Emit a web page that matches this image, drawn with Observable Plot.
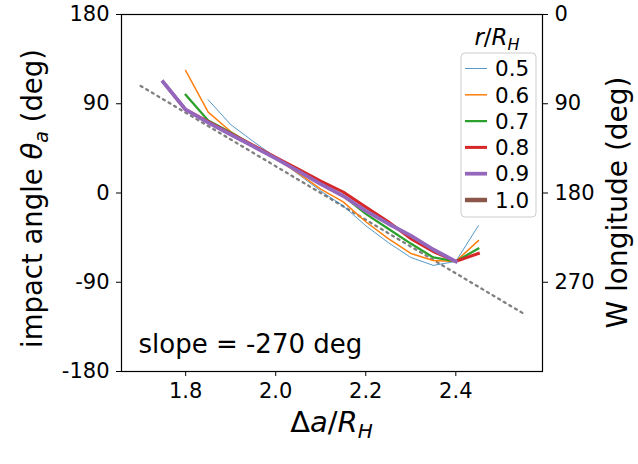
<!DOCTYPE html>
<html><head><meta charset="utf-8">
<script src="https://cdn.jsdelivr.net/npm/d3@7"></script>
<script src="https://cdn.jsdelivr.net/npm/@observablehq/plot@0.6"></script>
<style>
body{margin:0;background:#fff}
svg{font-family:"DejaVu Sans";}
</style>
</head><body><div id="chart"></div>
<script>
// Δa/R_H sample positions
const deltaA = [1.75,1.8,1.85,1.9,1.95,2.0,2.05,2.1,2.15,2.2,2.25,2.3,2.35,2.4,2.45];
// impact angle θ_a (deg) for each r/R_H
const r05 = [null,null,94,69,52,36,19,2,-13,-33,-50,-65,-73,-69,-33];
const r06 = [null,123.5,81.5,62,48,35,20,4,-9,-29,-46,-61,-68,-69,-48];
const r07 = [null,99,73,61,48,35,22,9,-3,-21,-36,-51,-65,-69,-56];
const r08 = [112,84,72,60,48,36,24,12,1,-14,-29,-46,-59,-69,-61];
const r09 = [112,84,71,59,47,35,22,9,-3,-18,-31,-43,-57,-69,null];
const r10 = [null,null,null,null,null,null,null,null,null,null,null,null,null,null,null];
const seriesNames = ["0.5","0.6","0.7","0.8","0.9","1.0"];
const seriesValues = [r05,r06,r07,r08,r09,r10];
const seriesColors = ["#1f77b4","#ff7f0e","#2ca02c","#d62728","#9467bd","#8c564b"];
const seriesWidths = [0.75,1.5,2.25,3,3.75,4.5];
// reference slope line
const fitX = [1.7,2.55];
const fitSlope = -270, fitCenter = 2.1;
const xTicks = [1.8,2.0,2.2,2.4];
const yTicks = [-180,-90,0,90,180];
const wLonTicks = [0,90,180,270]; // W longitude = 180 - θ
const slopeLabel = "slope = -270 deg";

const fitData = fitX.map(x => ({x, y: fitSlope*(x - fitCenter)}));
const lines = seriesValues.map((vals,i) => Plot.line(
  deltaA.map((x,j) => ({x, y: vals[j]})),
  {x:"x", y:"y", stroke: seriesColors[i], strokeWidth: seriesWidths[i],
   strokeLinejoin:"round", strokeLinecap:"square"}));

const plot = Plot.plot({
  width:638, height:464,
  marginLeft:121, marginRight:96, marginTop:14, marginBottom:93,
  style:{fontFamily:"DejaVu Sans", fontSize:"21px", background:"white", color:"black", overflow:"visible"},
  x:{domain:[1.6575,2.5925]},
  y:{domain:[-180,180]},
  marks:[
    Plot.line(fitData,{x:"x",y:"y",stroke:"#808080",strokeWidth:2.3,strokeDasharray:"2.1,4.4"}),
    ...lines,
    Plot.frame({stroke:"black", strokeWidth:1.2}),
    Plot.axisX({ticks:xTicks, tickFormat:d3.format(".1f"), tickSize:5, tickPadding:7, label:null, fontSize:21}),
    Plot.axisY({ticks:yTicks, tickFormat:d=>String(d).replace("\u2212","-"), tickSize:5, tickPadding:7, label:null, fontSize:21}),
    Plot.axisY({anchor:"right", ticks:wLonTicks.map(w=>180-w), tickFormat:d=>String(180-d), tickSize:5, tickPadding:7, label:null, fontSize:21}),
    Plot.text([slopeLabel],{frameAnchor:"bottom-left", textAnchor:"start", lineAnchor:"bottom", dx:17, dy:-19, fontSize:26})
  ]
});
document.getElementById("chart").appendChild(plot);

const svg = d3.select(plot);
// axis labels
const yl = svg.append("text").attr("transform","translate(42,198.5) rotate(-90)")
  .attr("text-anchor","middle").attr("font-size",27.5).attr("fill","black");
yl.append("tspan").text("impact angle ");
yl.append("tspan").attr("font-style","italic").text("θ");
yl.append("tspan").attr("font-style","italic").attr("font-size",19).attr("dy",6).text("a");
yl.append("tspan").attr("dy",-6).text(" (deg)");

svg.append("text").attr("transform","translate(627,202.5) rotate(-90)")
  .attr("text-anchor","middle").attr("font-size",28).attr("fill","black").text("W longitude (deg)");

const xl = svg.append("text").attr("x",331.5).attr("y",432)
  .attr("text-anchor","middle").attr("font-size",29).attr("fill","black");
xl.append("tspan").text("Δ");
xl.append("tspan").attr("font-style","italic").text("a");
xl.append("tspan").text("/");
xl.append("tspan").attr("font-style","italic").text("R");
xl.append("tspan").attr("font-style","italic").attr("font-size",20).attr("dy",6).text("H");

// legend
const lg = svg.append("g");
const lt = lg.append("text").attr("x",497).attr("y",45).attr("text-anchor","middle").attr("font-size",23).attr("fill","black");
lt.append("tspan").attr("font-style","italic").text("r");
lt.append("tspan").text("/");
lt.append("tspan").attr("font-style","italic").text("R");
lt.append("tspan").attr("font-style","italic").attr("font-size",16).attr("dy",5).text("H");
lg.append("rect").attr("x",461).attr("y",53).attr("width",75).attr("height",164).attr("rx",4)
  .attr("fill","white").attr("fill-opacity",0.8).attr("stroke","#cccccc").attr("stroke-width",1);
seriesNames.forEach((name,i) => {
  const y = 68.5 + i*26.3;
  lg.append("line").attr("x1",465).attr("x2",487).attr("y1",y).attr("y2",y)
    .attr("stroke",seriesColors[i]).attr("stroke-width",seriesWidths[i]);
  lg.append("text").attr("x",495).attr("y",y).attr("dy","0.36em").attr("text-anchor","start")
    .attr("font-size",21.5).attr("fill","black").text(name);
});
</script>
</body></html>
